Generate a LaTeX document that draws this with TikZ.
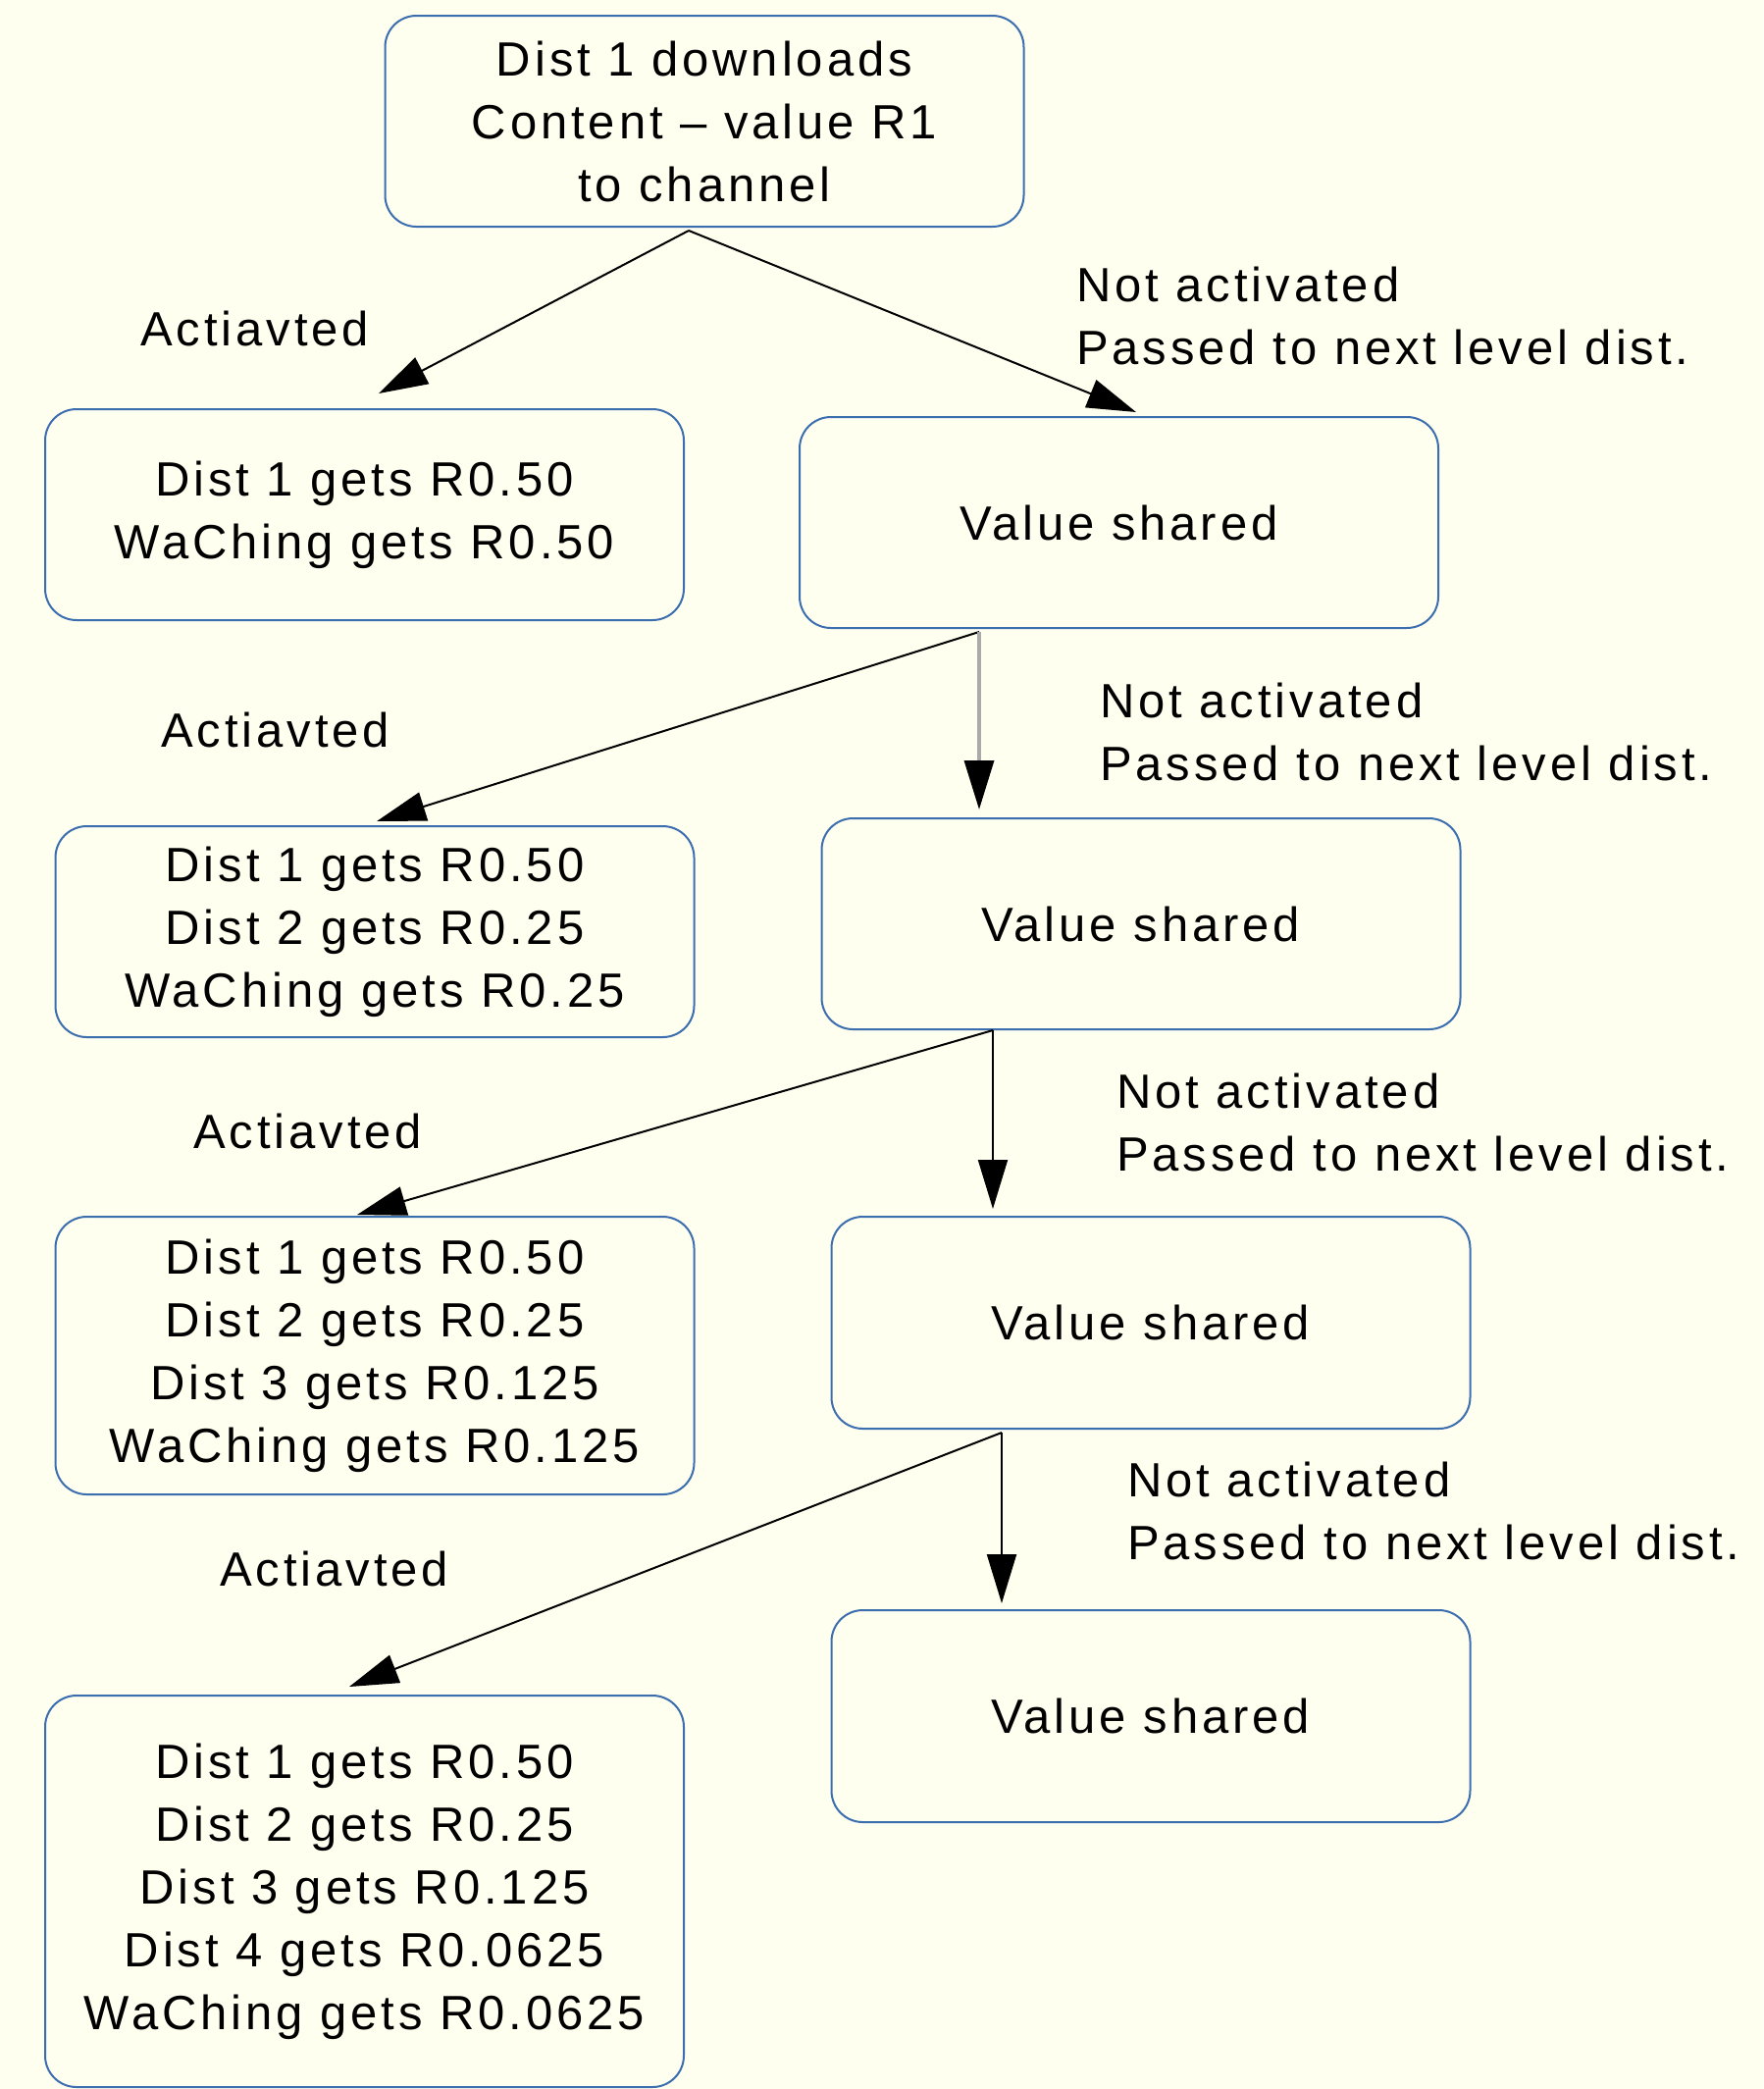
\documentclass[tikz,border=0pt]{standalone}
\usepackage{fontspec}
\setmainfont{Liberation Sans}[LetterSpace=8]
\usetikzlibrary{arrows.meta,calc}
\definecolor{bg}{RGB}{255,255,240}
\definecolor{bluebd}{RGB}{60,110,175}
\definecolor{lgray}{RGB}{170,170,170}
\begin{document}
\begin{tikzpicture}[x=1pt,y=-1pt,
  box/.style={draw=bluebd,line width=2pt,rounded corners=32pt,fill=bg,align=center,inner sep=0pt,
    minimum width=651pt,font=\fontsize{49}{64}\selectfont},
  lbl/.style={anchor=west,align=left,inner sep=0pt,font=\fontsize{49}{64}\selectfont},
  arr/.style={line width=2pt,-{Triangle[length=50pt,width=30pt,black]}}]
\fill[bg] (0,0) rectangle (1797,2129);
\useasboundingbox (0,0) rectangle (1797,2129);

\node[box,minimum height=215pt] (top) at (718,123.5) {Dist 1 downloads\\Content – value R1\\to channel};
\node[box,minimum height=215pt] (a1) at (371.5,524.5) {Dist 1 gets R0.50\\WaChing gets R0.50};
\node[box,minimum height=215pt] (v1) at (1140.5,532.5) {Value shared};
\node[box,minimum height=215pt] (a2) at (382,949.5) {Dist 1 gets R0.50\\Dist 2 gets R0.25\\WaChing gets R0.25};
\node[box,minimum height=215pt] (v2) at (1163,941.5) {Value shared};
\node[box,minimum height=283pt] (a3) at (382,1381.5) {Dist 1 gets R0.50\\Dist 2 gets R0.25\\Dist 3 gets R0.125\\WaChing gets R0.125};
\node[box,minimum height=216pt] (v3) at (1173,1348) {Value shared};
\node[box,minimum height=399pt] (a4) at (371.5,1927.5) {Dist 1 gets R0.50\\Dist 2 gets R0.25\\Dist 3 gets R0.125\\Dist 4 gets R0.0625\\WaChing gets R0.0625};
\node[box,minimum height=216pt] (v4) at (1173,1749) {Value shared};

\node[lbl] (l1) at (143,335) {Actiavted};
\node[lbl] (n1) at (1097,321.5) {Not activated\\Passed to next level dist.};
\node[lbl] (l2) at (164,744) {Actiavted};
\node[lbl] (n2) at (1121,745.5) {Not activated\\Passed to next level dist.};
\node[lbl] (l3) at (197,1153) {Actiavted};
\node[lbl] (n3) at (1138,1144) {Not activated\\Passed to next level dist.};
\node[lbl] (l4) at (224,1599) {Actiavted};
\node[lbl] (n4) at (1149,1540) {Not activated\\Passed to next level dist.};

\draw[arr] ($(top.south)+(-16,3)$) -- ($(a1.north)+(14.5,-15)$);
\draw[arr] ($(top.south)+(-16,3)$) -- ($(v1.north)+(17.5,-4)$);
\draw[arr] ($(v1.south)+(-142.5,3)$) -- ($(a2.north)+(2,-4)$);
\draw[arr,draw=lgray,line width=3.5pt] ($(v1.south)+(-142.5,3)$) -- ($(v2.north)+(-165,-8)$);
\draw[arr] ($(v2.south)+(-151,0)$) -- ($(a3.north)+(-18,-1)$);
\draw[arr] ($(v2.south)+(-151,0)$) -- ($(v3.north)+(-161,-7)$);
\draw[arr] ($(v3.south)+(-152,3)$) -- ($(a4.north)+(-15.5,-8)$);
\draw[arr] ($(v3.south)+(-152,3)$) -- ($(v4.north)+(-152,-6)$);
\end{tikzpicture}
\end{document}
